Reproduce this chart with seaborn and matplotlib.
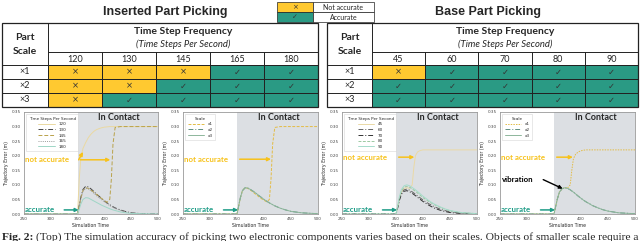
import numpy as np
import seaborn as sns
import matplotlib.pyplot as plt
from matplotlib.colors import ListedColormap
from matplotlib.patches import Rectangle

sns.set_style("white")
plt.rcParams['font.family'] = ['Lato', 'DejaVu Sans']

# ---- table data ----
inserted_freqs = ['120', '130', '145', '165', '180']
base_freqs = ['45', '60', '70', '80', '90']
part_scales = ['×1', '×2', '×3']
# 1 = accurate, 0 = not accurate
inserted_ok = [[0, 0, 0, 1, 1],
               [0, 0, 1, 1, 1],
               [0, 1, 1, 1, 1]]
base_ok = [[0, 1, 1, 1, 1],
           [1, 1, 1, 1, 1],
           [1, 1, 1, 1, 1]]

# ---- trajectory error curves ----
sim_time = [250, 350, 353, 356, 360, 365, 370, 375, 380, 383, 386, 390,
            395, 400, 405, 410, 413, 416, 420, 430, 440, 450, 470, 500]

ins_120 = [0, 0, 0.12, 0.19, 0.225, 0.245, 0.262, 0.274, 0.283, 0.287, 0.29, 0.293,
           0.296, 0.298, 0.299, 0.3, 0.3, 0.3, 0.3, 0.3, 0.3, 0.3, 0.3, 0.3]
ins_130 = [0, 0, 0.029, 0.057, 0.084, 0.095, 0.093, 0.086, 0.078, 0.072, 0.067, 0.061,
           0.053, 0.045, 0.038, 0.032, 0.028, 0.025, 0.021, 0.014, 0.008, 0.004, 0.001, 0]
ins_145 = [0, 0, 0.027, 0.054, 0.08, 0.09, 0.088, 0.082, 0.075, 0.07, 0.066, 0.06,
           0.053, 0.046, 0.04, 0.05, 0.12, 0.24, 0.297, 0.3, 0.3, 0.3, 0.3, 0.3]
ins_165 = [0, 0, 0.026, 0.053, 0.078, 0.088, 0.086, 0.08, 0.072, 0.067, 0.062, 0.056,
           0.049, 0.042, 0.035, 0.029, 0.026, 0.023, 0.019, 0.012, 0.007, 0.004, 0.001, 0]
ins_180 = [0, 0, 0.017, 0.034, 0.05, 0.056, 0.055, 0.05, 0.045, 0.042, 0.039, 0.035,
           0.03, 0.026, 0.022, 0.018, 0.016, 0.014, 0.012, 0.007, 0.004, 0.002, 0.001, 0]

ins_x1 = [0, 0, 0.027, 0.054, 0.08, 0.09, 0.088, 0.082, 0.075, 0.07, 0.066, 0.06,
          0.053, 0.047, 0.042, 0.05, 0.12, 0.24, 0.297, 0.3, 0.3, 0.3, 0.3, 0.3]
ins_x2 = [0, 0, 0.027, 0.054, 0.08, 0.09, 0.089, 0.084, 0.078, 0.074, 0.07, 0.064,
          0.057, 0.05, 0.044, 0.038, 0.035, 0.032, 0.028, 0.02, 0.014, 0.009, 0.004, 0.001]
ins_x3 = [0, 0, 0.027, 0.054, 0.08, 0.09, 0.089, 0.084, 0.078, 0.074, 0.07, 0.064,
          0.057, 0.05, 0.044, 0.038, 0.035, 0.032, 0.028, 0.02, 0.014, 0.009, 0.004, 0.001]

base_45 = [0, 0, 0.025, 0.05, 0.075, 0.088, 0.09, 0.088, 0.1, 0.16, 0.2, 0.213,
           0.218, 0.22, 0.22, 0.22, 0.22, 0.22, 0.22, 0.22, 0.22, 0.22, 0.22, 0.22]
base_60 = [0, 0, 0.022, 0.048, 0.072, 0.083, 0.085, 0.082, 0.076, 0.072, 0.068, 0.062,
           0.055, 0.048, 0.042, 0.036, 0.033, 0.03, 0.026, 0.018, 0.012, 0.008, 0.003, 0.001]
base_70 = [0, 0, 0.02, 0.045, 0.068, 0.078, 0.08, 0.077, 0.071, 0.067, 0.063, 0.057,
           0.05, 0.043, 0.037, 0.031, 0.028, 0.025, 0.021, 0.014, 0.009, 0.005, 0.002, 0]
base_80 = [0, 0, 0.025, 0.053, 0.08, 0.092, 0.095, 0.092, 0.086, 0.082, 0.078, 0.072,
           0.064, 0.056, 0.05, 0.044, 0.04, 0.037, 0.033, 0.024, 0.017, 0.011, 0.005, 0.001]
base_90 = [0, 0, 0.027, 0.056, 0.084, 0.097, 0.1, 0.097, 0.091, 0.087, 0.083, 0.077,
           0.069, 0.061, 0.054, 0.047, 0.043, 0.04, 0.035, 0.026, 0.018, 0.012, 0.005, 0.001]

base_x1 = [0, 0, 0.025, 0.05, 0.075, 0.087, 0.09, 0.089, 0.1, 0.15, 0.19, 0.205,
           0.213, 0.217, 0.219, 0.22, 0.22, 0.22, 0.22, 0.22, 0.22, 0.22, 0.22, 0.22]
base_x2 = [0, 0, 0.025, 0.05, 0.075, 0.087, 0.09, 0.088, 0.083, 0.079, 0.075, 0.069,
           0.061, 0.054, 0.047, 0.041, 0.038, 0.035, 0.03, 0.022, 0.015, 0.01, 0.004, 0.001]
base_x3 = [0, 0, 0.025, 0.05, 0.075, 0.087, 0.09, 0.088, 0.083, 0.079, 0.075, 0.069,
           0.061, 0.054, 0.047, 0.041, 0.038, 0.035, 0.03, 0.022, 0.015, 0.01, 0.004, 0.001]

scale_labels = ['x1', 'x2', 'x3']

YELLOW = '#FFC930'
TEAL = '#2A9A84'
YEL_TXT = '#F7C21C'
TEAL_TXT = '#1E9C87'
SHADE = '#DCDFE3'
LINE = '#222222'
DASHDOT = (0, (5, 2, 1, 2))

W, H = 640, 241
fig = plt.figure(figsize=(W / 100, H / 100), dpi=100)


def rect(x0, y0, x1, y1):
    # pixel box -> figure fraction
    return [x0 / W, 1 - y1 / H, (x1 - x0) / W, (y1 - y0) / H]


bg = fig.add_axes([0, 0, 1, 1])
bg.set_xlim(0, W)
bg.set_ylim(H, 0)
bg.axis('off')
bg.set_zorder(5)


def draw_table(x0, xc, x1, title, title_x, freqs, ok):
    # coloured cells
    ax = fig.add_axes(rect(xc, 65, x1, 107))
    arr = np.array(ok)
    sns.heatmap(arr, ax=ax, cmap=ListedColormap([YELLOW, TEAL]), vmin=0, vmax=1,
                annot=np.where(arr == 1, '✓', '×'), fmt='', cbar=False,
                linewidths=0.7, linecolor=LINE, xticklabels=False, yticklabels=False,
                annot_kws={'color': '#333333', 'fontsize': 6, 'family': 'DejaVu Sans'})
    # frame + header
    bg.add_patch(Rectangle((x0, 23), x1 - x0, 84, fill=False, lw=0.9, ec=LINE))
    bg.plot([xc, xc], [23, 107], color=LINE, lw=0.7)
    bg.plot([xc, x1], [52, 52], color=LINE, lw=0.7)
    bg.plot([x0, x1], [65, 65], color=LINE, lw=0.7)
    for y in (79, 93):
        bg.plot([x0, xc], [y, y], color=LINE, lw=0.7)
    cw = (x1 - xc) / len(freqs)
    for i, f in enumerate(freqs):
        if i > 0:
            bg.plot([xc + i * cw] * 2, [52, 65], color=LINE, lw=0.7)
        bg.text(xc + (i + 0.5) * cw, 59, f, ha='center', va='center', fontsize=6.5)
    for i, s in enumerate(part_scales):
        bg.text((x0 + xc) / 2, 72 + 14 * i, s, ha='center', va='center', fontsize=6.5)
    bg.text((x0 + xc) / 2, 38, 'Part', ha='center', va='center', fontsize=7.5, fontweight='bold')
    bg.text((x0 + xc) / 2, 51, 'Scale', ha='center', va='center', fontsize=7.5, fontweight='bold')
    bg.text((xc + x1) / 2, 32, 'Time Step Frequency', ha='center', va='center',
            fontsize=7.5, fontweight='bold')
    bg.text((xc + x1) / 2, 44, '(Time Steps Per Second)', ha='center', va='center',
            fontsize=6.8, style='italic')
    bg.text(title_x, 12, title, ha='center', va='center', fontsize=9,
            fontweight='bold', family='Liberation Sans')


draw_table(2, 48, 318, 'Inserted Part Picking', 165, inserted_freqs, inserted_ok)
draw_table(327, 372, 638, 'Base Part Picking', 488, base_freqs, base_ok)

# legend box at the top
bg.add_patch(Rectangle((277, 2), 36, 10, fc=YELLOW, ec=LINE, lw=0.5))
bg.add_patch(Rectangle((277, 12), 36, 10, fc=TEAL, ec=LINE, lw=0.5))
bg.add_patch(Rectangle((313, 2), 61, 10, fc='white', ec=LINE, lw=0.5))
bg.add_patch(Rectangle((313, 12), 61, 10, fc='white', ec=LINE, lw=0.5))
bg.text(295, 7, '×', ha='center', va='center', fontsize=5, color='#333333', family='DejaVu Sans')
bg.text(295, 17, '✓', ha='center', va='center', fontsize=5, color='#333333', family='DejaVu Sans')
bg.text(343.5, 7, 'Not accurate', ha='center', va='center', fontsize=5)
bg.text(343.5, 17, 'Accurate', ha='center', va='center', fontsize=5)


def panel(box, labels, curves, title, colors, styles):
    ax = fig.add_axes(rect(*box))
    ax.axvspan(350, 500, color=SHADE, lw=0, zorder=0)
    for lab, y, c, ls in zip(labels, curves, colors, styles):
        sns.lineplot(x=sim_time, y=y, color=c, linestyle=ls, lw=0.7, label=lab,
                     estimator=None, sort=False, ax=ax)
    leg = ax.legend(loc='upper left', title=title, fontsize=3, title_fontsize=3,
                    frameon=True, handlelength=4, borderpad=0.6, labelspacing=0.4,
                    edgecolor='#cccccc', fancybox=False)
    leg.get_frame().set_linewidth(0.4)
    for t in leg.get_texts() + [leg.get_title()]:
        t.set_family('DejaVu Sans')
    ax.set_xlim(250, 500)
    ax.set_ylim(0, 0.35)
    ax.set_xticks([250, 300, 350, 400, 450, 500])
    ax.set_yticks([0, 0.05, 0.1, 0.15, 0.2, 0.25, 0.3, 0.35])
    ax.set_yticklabels([f'{v:.2f}' for v in ax.get_yticks()])
    ax.tick_params(labelsize=3, length=1.5, width=0.4, pad=1, colors='#444444')
    for lab in ax.get_xticklabels() + ax.get_yticklabels():
        lab.set_family('DejaVu Sans')
    ax.set_xlabel('Simulation Time', fontsize=3.3, labelpad=1, family='DejaVu Sans')
    ax.set_ylabel('Trajectory Error (m)', fontsize=3.3, labelpad=1.5, family='DejaVu Sans')
    for sp in ax.spines.values():
        sp.set_color('#999999')
        sp.set_linewidth(0.6)
    ax.text(427, 0.332, 'In Contact', ha='center', va='center', fontsize=6.5, fontweight='bold')
    return ax


def mark(ax, head_x, bad_y=0.188, accurate_x=(325, 352)):
    ax.text(251, bad_y, 'not accurate', color=YEL_TXT, fontweight='bold', fontsize=5.7, va='center')
    ax.annotate('', xy=(head_x, bad_y), xytext=(355, bad_y),
                arrowprops=dict(arrowstyle='-|>', color=YEL_TXT, lw=1.1, mutation_scale=5,
                                shrinkA=0, shrinkB=0))
    ax.text(251, 0.014, 'accurate', color=TEAL_TXT, fontweight='bold', fontsize=5.7, va='center')
    ax.annotate('', xy=(accurate_x[1], 0.014), xytext=(accurate_x[0], 0.014),
                arrowprops=dict(arrowstyle='-|>', color=TEAL_TXT, lw=1.1, mutation_scale=5,
                                shrinkA=0, shrinkB=0))


a1 = panel((24, 112, 158, 214), inserted_freqs,
           [ins_120, ins_130, ins_145, ins_165, ins_180], 'Time Steps Per Second',
           ['#EAD9A2', '#444444', '#B9A24A', '#9A9A9A', '#9FD6C6'],
           ['-', DASHDOT, (0, (4, 2)), (0, (1, 1.2)), '-'])
mark(a1, 411, bad_y=0.186)
a1.annotate('', xy=(360, 0.213), xytext=(352, 0.186),
            arrowprops=dict(arrowstyle='-|>', color=YEL_TXT, lw=1.1, mutation_scale=5,
                            shrinkA=0, shrinkB=0))

a2 = panel((183, 112, 318, 214), scale_labels, [ins_x1, ins_x2, ins_x3], 'Scale',
           ['#E3BC45', '#5F8E80', '#8DB69B'], [(0, (3, 1.5)), DASHDOT, '-'])
mark(a2, 413)

a3 = panel((342, 112, 477, 214), base_freqs,
           [base_45, base_60, base_70, base_80, base_90], 'Time Steps Per Second',
           ['#EAD9A6', '#666666', '#333333', '#9CC9A2', '#A6DCCB'],
           ['-', DASHDOT, DASHDOT, (0, (3, 1.5)), '-'])
mark(a3, 384, bad_y=0.195)

a4 = panel((500, 112, 635, 214), scale_labels, [base_x1, base_x2, base_x3], 'Scale',
           ['#E3BC45', '#5F8E80', '#8DB69B'], [(0, (1.5, 1.2)), DASHDOT, '-'])
mark(a4, 385, bad_y=0.195)
a4.text(253, 0.118, 'vibration', color='black', fontweight='bold', fontsize=5.7, va='center')
a4.annotate('', xy=(366, 0.087), xytext=(330, 0.118),
            arrowprops=dict(arrowstyle='-|>', color='black', lw=1.0, mutation_scale=5,
                            shrinkA=0, shrinkB=0))

# caption (cut off at the bottom of the crop)
bg.text(2, 240, 'Fig. 2:', fontsize=8.25, fontweight='bold', family='Liberation Serif',
        va='baseline')
bg.text(36, 240, '(Top) The simulation accuracy of picking two electronic components varies '
        'based on their scales. Objects of smaller scale require a',
        fontsize=8.25, family='Liberation Serif', va='baseline')

fig.savefig('out.png', dpi=100)
